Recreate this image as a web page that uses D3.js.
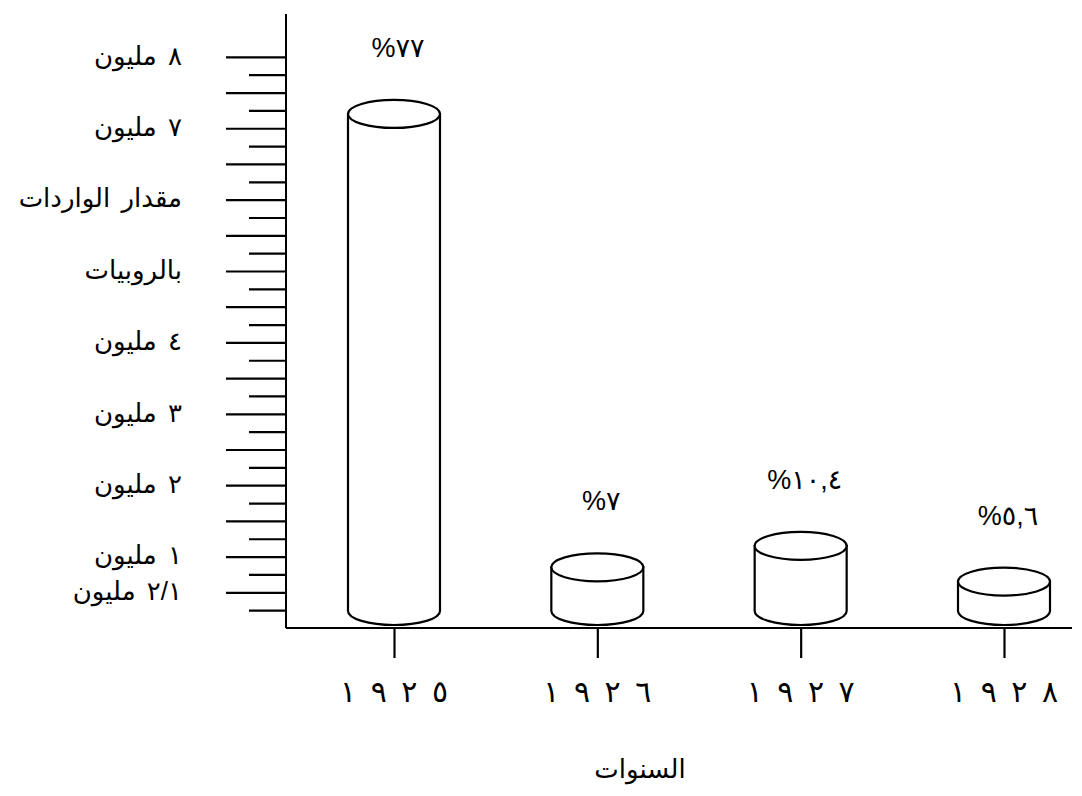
<!DOCTYPE html>
<html>
<head>
<meta charset="utf-8">
<script src="https://cdn.jsdelivr.net/npm/d3@7"></script>
<style>
  body { margin: 0; background: #fff; }
  svg { display: block; }
  text { font-family: "Liberation Sans", "DejaVu Sans", sans-serif; fill: #000; }
</style>
</head>
<body>
<svg id="chart"></svg>
<script>
// data (imports in million rupees)
const years = ["١٩٢٥", "١٩٢٦", "١٩٢٧", "١٩٢٨"];
const values = [7.2, 0.85, 1.15, 0.65];
const shares = ["%٧٧", "%٧", "%١٠,٤", "%٥,٦"];
const yLabelValues = [8, 7, 6, 5, 4, 3, 2, 1, 0.5];
const yLabels = ["٨ مليون", "٧ مليون", "مقدار الواردات", "بالروبيات", "٤ مليون", "٣ مليون", "٢ مليون", "١ مليون", "٢/١ مليون"];
const majorTicks = d3.range(0.5, 8.01, 0.5);
const minorTicks = d3.range(0.25, 8, 0.5);
const xTitle = "السنوات";

const width = 1082, height = 796;
const axisX = 286, axisY = 628;

const svg = d3.select("#chart").attr("width", width).attr("height", height);

const y = d3.scaleLinear().domain([0, 8.6]).range([axisY, 14]);
const x = d3.scalePoint().domain(years).range([394, 1004]);

// y axis: long ticks on half millions, short ones between
svg.append("g")
    .attr("transform", "translate(" + axisX + ",0)")
    .call(d3.axisLeft(y).tickValues(majorTicks).tickSize(60).tickFormat("").tickSizeOuter(0))
    .call(g => g.select(".domain").remove())
    .selectAll("line").attr("stroke", "#000").attr("stroke-width", 2.2);
svg.append("g")
    .attr("transform", "translate(" + axisX + ",0)")
    .call(d3.axisLeft(y).tickValues(minorTicks).tickSize(37).tickFormat("").tickSizeOuter(0))
    .call(g => g.select(".domain").remove())
    .selectAll("line").attr("stroke", "#000").attr("stroke-width", 2.2);

svg.append("line")
    .attr("x1", axisX).attr("x2", axisX)
    .attr("y1", y(8.6)).attr("y2", axisY)
    .attr("stroke", "#000").attr("stroke-width", 2);

svg.selectAll(".ylab")
    .data(yLabels)
    .enter()
    .append("text")
    .attr("class", "ylab")
    .attr("x", 182)
    .attr("y", (d, i) => y(yLabelValues[i]))
    .attr("dy", "0.3em")
    .attr("text-anchor", "end")
    .style("font-size", "26px")
    .style("word-spacing", "4px")
    .text(d => d);

// x axis
svg.append("line")
    .attr("x1", axisX).attr("x2", 1072)
    .attr("y1", axisY).attr("y2", axisY)
    .attr("stroke", "#000").attr("stroke-width", 2);
svg.append("g")
    .attr("transform", "translate(0," + axisY + ")")
    .call(d3.axisBottom(x).tickSize(30).tickFormat("").tickSizeOuter(0))
    .call(g => g.select(".domain").remove())
    .selectAll("line").attr("stroke", "#000").attr("stroke-width", 2.2);

// year labels are widely spaced in the original
svg.selectAll(".year")
    .data(years)
    .enter()
    .append("text")
    .attr("class", "year")
    .attr("x", d => x(d))
    .attr("y", 702)
    .attr("text-anchor", "middle")
    .attr("textLength", 108)
    .attr("lengthAdjust", "spacing")
    .style("font-size", "30px")
    .text(d => d);

svg.append("text")
    .attr("x", 640)
    .attr("y", 778)
    .attr("text-anchor", "middle")
    .style("font-size", "26px")
    .text(xTitle);

// cylinders
const rx = 46, ry = 14;
const bars = svg.selectAll(".cyl")
    .data(years)
    .enter()
    .append("g")
    .attr("class", "cyl");

bars.append("path")
    .attr("d", (d, i) => {
        const cx = x(d), top = y(values[i]), bot = axisY - 3 - ry;
        return "M" + (cx - rx) + "," + top +
            "L" + (cx - rx) + "," + bot +
            "A" + rx + "," + ry + " 0 0 0 " + (cx + rx) + "," + bot +
            "L" + (cx + rx) + "," + top + "Z";
    })
    .attr("fill", "#fff")
    .attr("stroke", "#000")
    .attr("stroke-width", 2.2);

bars.append("ellipse")
    .attr("cx", d => x(d))
    .attr("cy", (d, i) => y(values[i]))
    .attr("rx", rx)
    .attr("ry", ry)
    .attr("fill", "#fff")
    .attr("stroke", "#000")
    .attr("stroke-width", 2.2);

bars.append("text")
    .attr("x", d => x(d) + 4)
    .attr("y", (d, i) => y(values[i]) - ry - 43)
    .attr("text-anchor", "middle")
    .style("font-size", "27px")
    .text((d, i) => shares[i]);
</script>
</body>
</html>
